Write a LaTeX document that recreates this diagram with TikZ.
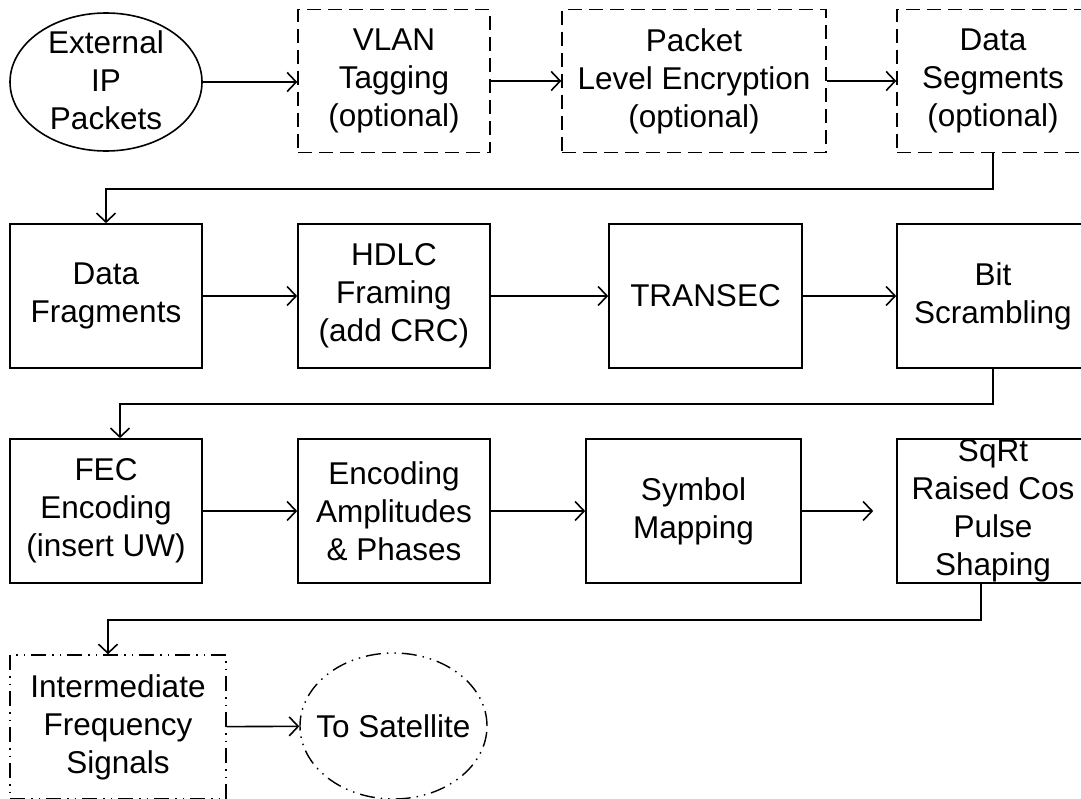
\documentclass[tikz,border=0pt]{standalone}
\usepackage{fontspec}
\setmainfont{Liberation Sans}
\usetikzlibrary{arrows.meta,shapes.geometric,calc}

\begin{document}
\begin{tikzpicture}[x=1pt,y=-1pt,
  line width=1.6pt,
  txt/.style={font=\fontsize{31.5}{38}\selectfont, align=center, inner sep=0pt},
  box/.style={txt, draw, rectangle, minimum width=192pt, minimum height=144pt},
  optbox/.style={box, line width=1.4pt, dash pattern=on 14pt off 7pt},
  ifbox/.style={box, line width=1.4pt, dash pattern=on 15pt off 6pt on 1.5pt off 6pt on 1.5pt off 6pt},
  oval/.style={draw, ellipse, inner sep=0pt},
  flow/.style={-{Straight Barb[length=9pt,width=19pt]}, line width=1.6pt}]

\useasboundingbox (0,0) rectangle (1081,798);
\clip (0,0) rectangle (1081,798);

% first row: optional packet processing
\node[oval, minimum width=192pt, minimum height=138pt] (ext) at (106,82) {};
\node[txt] (extT) at ([yshift=2pt]ext.center) {External\\IP\\Packets};
\node[optbox, minimum height=143pt] (vlan) at (394,81) {VLAN\\Tagging\\(optional)};
\node[optbox, minimum width=264pt, minimum height=143pt] (pkt) at (694,81) {Packet\\Level Encryption\\(optional)};
\node[optbox, minimum height=143pt] (ds) at (993,81) {Data\\Segments\\(optional)};

% second row: link layer
\node[box] (df) at (106,296) {Data\\Fragments};
\node[box] (hdlc) at (394,296) {HDLC\\Framing\\(add CRC)};
\node[box, minimum width=193pt] (tsec) at (705.5,296) {TRANSEC};
\node[box] (bit) at (993,296) {Bit\\Scrambling};

% third row: coding and modulation
\node[box] (fec) at (106,511) {FEC\\Encoding\\(insert UW)};
\node[box] (enc) at (394,511) {Encoding\\Amplitudes\\\& Phases};
\node[box, minimum width=215pt] (sym) at (693.5,511) {Symbol\\Mapping};
\node[box] (sqrt) at (993,511) {};
\node[txt] (sqrtT) at (sqrt.center) {SqRt\\Raised Cos\\Pulse\\Shaping};

% fourth row: output
\node[ifbox, minimum width=216pt] (ifs) at (118,727) {Intermediate\\Frequency\\Signals};
\node[oval, minimum width=187pt, minimum height=146pt, line width=1.4pt,
      dash pattern=on 15pt off 6pt on 1.5pt off 6pt on 1.5pt off 6pt] (sat) at (393.5,726) {};
\node[txt] (satT) at (sat.center) {To Satellite};

\coordinate (symEnd) at ($(sqrt.west)+(-23,0)$);

% connectors within rows
\draw[flow] (ext.east) -- (ext.east -| vlan.west);
\draw[flow] (vlan) -- (pkt);
\draw[flow] (pkt) -- (ds);
\draw[flow] (df) -- (hdlc);
\draw[flow] (hdlc) -- (tsec);
\draw[flow] (tsec) -- (bit);
\draw[flow] (fec) -- (enc);
\draw[flow] (enc) -- (sym);
\draw[flow] (sym.east) -- (symEnd);
\draw[flow] (ifs) -- (sat);

% connectors between rows
\draw[flow] (ds.south) -- ++(0,36) -| (df.north);
\draw[flow] (bit.south) -- ++(0,35) -| ([xshift=14pt]fec.north);
\draw[flow] ([xshift=-12pt]sqrt.south) -- ++(0,36) -| ([xshift=-10pt]ifs.north);
\end{tikzpicture}
\end{document}
